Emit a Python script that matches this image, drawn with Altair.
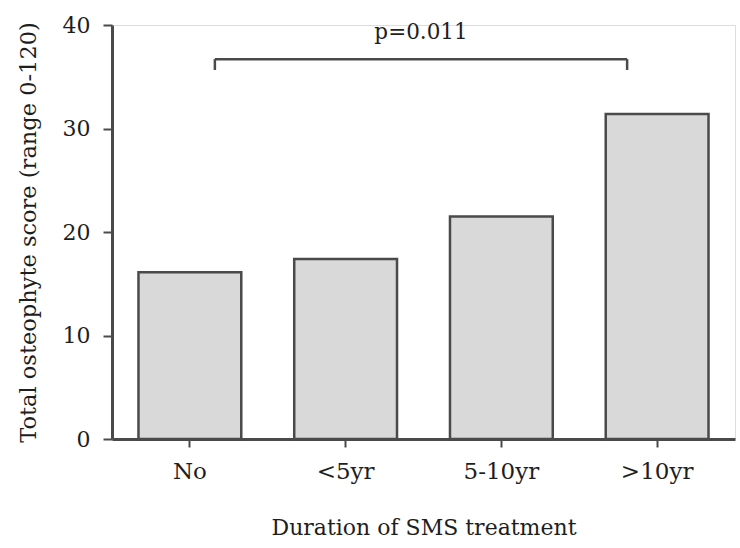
import altair as alt
import pandas as pd

categories = ["No", "<5yr", "5-10yr", ">10yr"]
scores = [16.1, 17.4, 21.5, 31.4]

bracket_start = ["No"]
bracket_end = [">10yr"]
bracket_top = [36.7]
bracket_leg = [35.65]
p_label = ["p=0.011"]
p_label_cat = ["<5yr"]
p_label_y = [39.2]

FONT = "DejaVu Serif"
DARK = "#4a4a4a"
TEXT = "#1e1e1e"

bars_df = pd.DataFrame({"cat": categories, "score": scores})
br_df = pd.DataFrame({"a": bracket_start, "b": bracket_end, "top": bracket_top, "leg": bracket_leg})
lab_df = pd.DataFrame({"cat": p_label_cat, "y": p_label_y, "label": p_label})

xscale = alt.Scale(domain=categories, paddingInner=0.34, paddingOuter=0.17)
yscale = alt.Scale(domain=[0, 40], nice=False)

bars = alt.Chart(bars_df).mark_bar(
    fill="#d9d9d9", stroke=DARK, strokeWidth=2.5
).encode(
    x=alt.X("cat:N", scale=xscale, sort=categories,
            axis=alt.Axis(title="Duration of SMS treatment", labelAngle=0,
                          labelFont=FONT, labelFontSize=23, labelColor=TEXT,
                          titleFont=FONT, titleFontSize=22, titleFontWeight="normal",
                          titleColor=TEXT, titlePadding=34, labelPadding=13,
                          tickSize=8, tickColor=DARK, tickWidth=2,
                          domainColor=DARK, domainWidth=3)),
    y=alt.Y("score:Q", scale=yscale,
            axis=alt.Axis(title="Total osteophyte score (range 0-120)", values=[0, 10, 20, 30, 40],
                          labelFont=FONT, labelFontSize=22, labelColor=TEXT,
                          titleFont=FONT, titleFontSize=22.5, titleFontWeight="normal",
                          titleColor=TEXT, titlePadding=22, labelPadding=13,
                          tickSize=9, tickColor=DARK, tickWidth=2,
                          domainColor=DARK, domainWidth=3, grid=False)),
)

hline = alt.Chart(br_df).mark_rule(color=DARK, strokeWidth=2.5, xOffset=25, x2Offset=-30).encode(
    x=alt.X("a:N", scale=xscale),
    x2="b:N",
    y=alt.Y("top:Q", scale=yscale),
)
leg_left = alt.Chart(br_df).mark_rule(color=DARK, strokeWidth=2.5, xOffset=25).encode(
    x=alt.X("a:N", scale=xscale),
    y=alt.Y("top:Q", scale=yscale),
    y2="leg:Q",
)
leg_right = alt.Chart(br_df).mark_rule(color=DARK, strokeWidth=2.5, xOffset=-30).encode(
    x=alt.X("b:N", scale=xscale),
    y=alt.Y("top:Q", scale=yscale),
    y2="leg:Q",
)
label = alt.Chart(lab_df).mark_text(
    font=FONT, fontSize=21.5, color=TEXT, align="center", baseline="middle", dx=24
).encode(
    x=alt.X("cat:N", scale=xscale, bandPosition=1),
    y=alt.Y("y:Q", scale=yscale),
    text="label:N",
)

chart = alt.layer(bars, hline, leg_left, leg_right, label).properties(
    width=623, height=414,
    autosize=alt.AutoSizeParams(type="none"),
    padding={"left": 112, "top": 25, "right": 5, "bottom": 109},
).configure_view(stroke=None).configure(background="white")

chart.save("out.html", embed_options={"renderer": "svg", "actions": False})
